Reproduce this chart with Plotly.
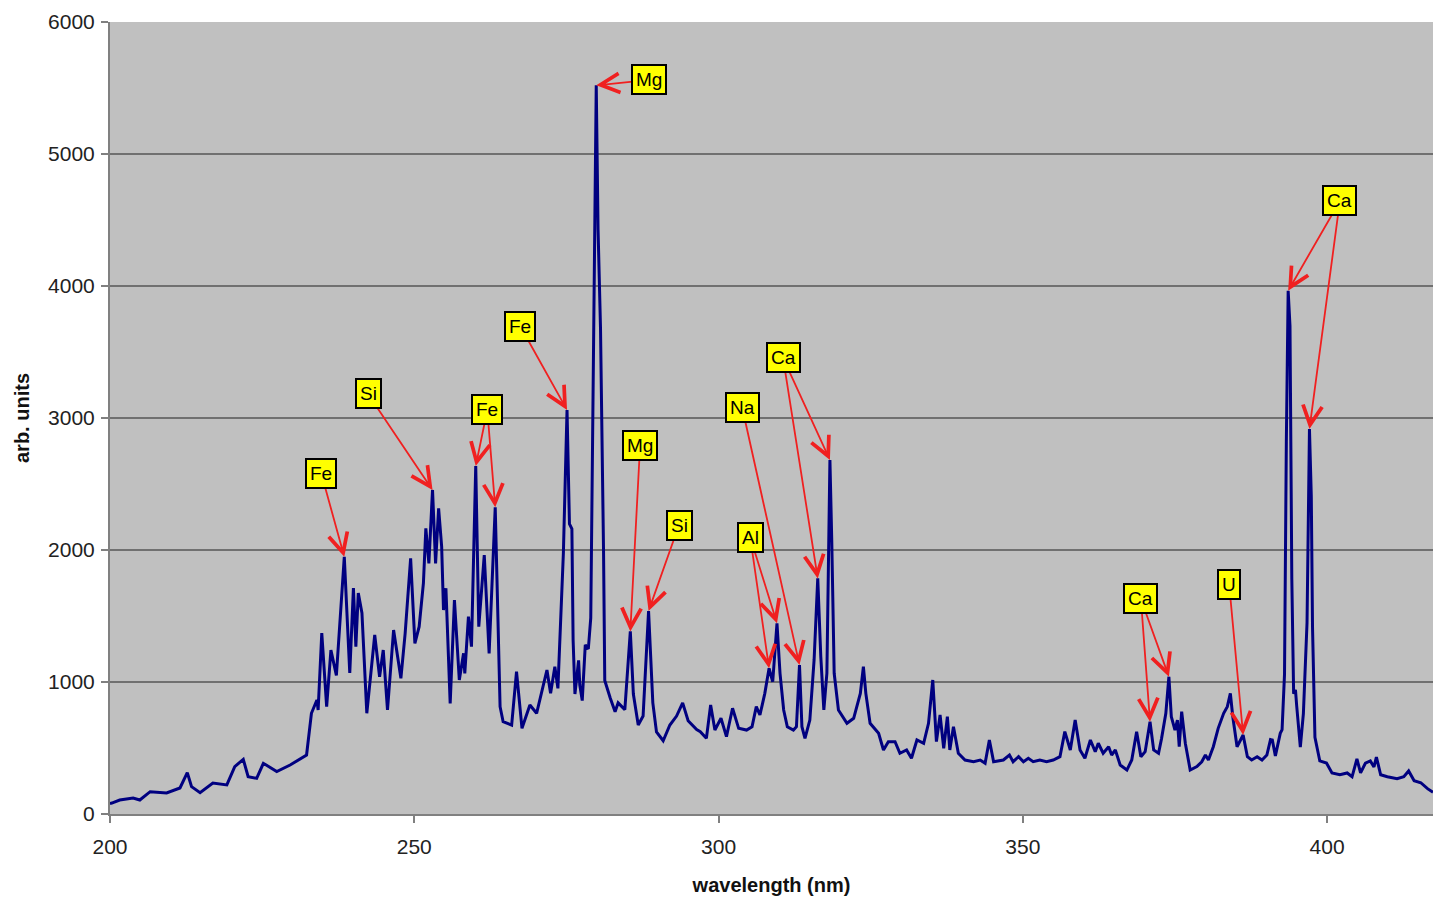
import plotly.graph_objects as go

# Emission spectrum: wavelength (nm) and intensity (arb. units)
wavelength = [
    200.0, 200.3, 201.6, 203.8, 204.9, 206.6, 209.3, 211.5, 212.7, 213.4,
    214.8, 216.9, 219.2, 220.5, 221.9, 222.7, 224.1, 225.2, 227.4, 229.6,
    232.3, 233.1, 234.0, 234.2, 234.8, 235.6, 236.3, 237.2, 238.5, 239.4,
    240.0, 240.4, 240.8, 241.4, 242.2, 243.5, 244.3, 244.9, 245.6, 246.6,
    247.8, 248.5, 249.4, 250.1, 250.8, 251.5, 251.9, 252.4, 253.0, 253.5,
    254.0, 254.5, 254.8, 255.2, 255.9, 256.6, 257.4, 258.1, 258.3, 258.9,
    259.4, 260.1, 260.6, 261.5, 262.3, 263.3, 264.1, 264.6, 266.0, 266.8,
    267.7, 269.0, 270.1, 271.8, 272.4, 273.1, 273.6, 274.1, 274.5, 275.1,
    275.5, 275.9, 276.1, 276.4, 277.0, 277.2, 277.6, 278.1, 278.6, 279.0,
    279.4, 279.9, 280.2, 280.6, 281.1, 281.3, 282.2, 283.0, 283.5, 284.6,
    285.5, 286.0, 286.8, 287.6, 288.5, 289.2, 289.8, 290.9, 292.0, 293.1,
    294.1, 295.0, 296.4, 297.0, 298.0, 298.7, 299.4, 300.4, 301.3, 302.3,
    303.3, 304.6, 305.5, 306.2, 306.8, 307.6, 308.3, 308.9, 309.6, 310.1,
    310.7, 311.3, 312.3, 312.8, 313.3, 313.7, 314.2, 315.0, 315.7, 316.3,
    316.8, 317.3, 317.8, 318.3, 318.6, 319.0, 319.7, 321.1, 322.2, 323.3,
    323.8, 324.2, 324.9, 326.3, 327.1, 327.9, 329.0, 329.8, 330.9, 331.7,
    332.6, 333.7, 334.5, 335.2, 335.8, 336.4, 337.0, 337.6, 338.0, 338.6,
    339.4, 340.5, 341.9, 343.0, 343.8, 344.5, 345.2, 346.8, 347.8, 348.4,
    349.3, 350.1, 350.9, 351.7, 352.8, 353.9, 355.0, 356.1, 356.9, 357.8,
    358.6, 359.4, 360.2, 361.1, 361.9, 362.4, 363.2, 364.1, 364.6, 365.2,
    366.0, 367.1, 367.9, 368.7, 369.4, 370.1, 370.9, 371.5, 372.3, 372.8,
    373.5, 374.0, 374.4, 375.0, 375.4, 375.7, 376.1, 376.7, 377.5, 378.6,
    379.4, 380.0, 380.5, 381.3, 382.1, 383.0, 383.6, 384.1, 384.5, 385.2,
    386.2, 386.9, 387.6, 388.5, 389.3, 390.1, 390.7, 391.0, 391.5, 392.3,
    392.6, 393.0, 393.3, 393.6, 393.9, 394.2, 394.5, 394.8, 395.0, 395.6,
    396.1, 396.7, 397.1, 397.4, 397.6, 398.0, 398.8, 399.9, 400.8, 402.1,
    403.3, 404.1, 404.9, 405.5, 406.3, 407.1, 407.7, 408.1, 408.8, 409.9,
    411.5, 412.6, 413.4, 414.3, 415.4, 416.5, 417.4,
]
intensity = [
    80, 83, 106, 121, 106, 169, 159, 197, 313, 207,
    162, 235, 220, 359, 414, 283, 270, 384, 321, 371,
    447, 763, 864, 788, 1371, 813, 1242, 1050, 1949, 1068,
    1712, 1268, 1674, 1523, 763, 1356, 1040, 1242, 788, 1394,
    1028, 1369, 1937, 1293, 1419, 1748, 2164, 1899, 2455, 1899,
    2316, 2025, 1545, 1710, 838, 1621, 1015, 1217, 1066, 1495,
    1268, 2636, 1419, 1962, 1217, 2323, 813, 699, 674, 1078,
    649, 826, 763, 1091, 914, 1116, 952, 1570, 1975, 3061,
    2197, 2160, 1318, 909, 1164, 977, 859, 1282, 1250, 1485,
    3345, 5520, 4427, 3683, 1992, 1011, 879, 774, 842, 791,
    1383, 909, 674, 742, 1538, 842, 622, 555, 674, 742,
    842, 707, 639, 624, 573, 826, 636, 725, 586, 801,
    649, 636, 661, 813, 750, 914, 1104, 1002, 1445, 1066,
    788, 661, 636, 661, 1129, 661, 573, 712, 1167, 1785,
    1192, 788, 1066, 2682, 2076, 1066, 788, 687, 725, 914,
    1116, 914, 687, 611, 485, 548, 548, 460, 485, 422,
    561, 536, 687, 1015, 548, 750, 498, 737, 485, 661,
    460, 409, 396, 409, 384, 561, 396, 409, 447, 396,
    434, 396, 422, 396, 409, 396, 409, 434, 624, 485,
    712, 485, 422, 561, 472, 536, 460, 510, 447, 485,
    371, 333, 409, 624, 434, 472, 699, 485, 460, 573,
    763, 1040, 737, 636, 712, 510, 775, 536, 333, 359,
    396, 447, 409, 510, 649, 763, 813, 914, 737, 510,
    598, 434, 409, 434, 409, 447, 564, 561, 440, 611,
    639, 1058, 2820, 3964, 3697, 1779, 911, 940, 820, 506,
    761, 1449, 2917, 2407, 1419, 581, 402, 386, 311, 297,
    311, 282, 417, 311, 386, 402, 356, 432, 297, 282,
    267, 282, 326, 252, 237, 192, 165,
]

# Element labels: text, label centre (nm, intensity), peaks it points to (nm)
label_text = ["Fe", "Si", "Fe", "Fe", "Mg", "Mg", "Si", "Al", "Na", "Ca", "Ca", "U", "Ca"]
label_nm = [234.7, 242.4, 262.0, 267.4, 288.6, 287.1, 293.5, 305.2, 303.9, 310.6, 369.4, 383.9, 402.1]
label_val = [2583, 3182, 3061, 3697, 5561, 2788, 2189, 2098, 3076, 3455, 1629, 1742, 4644]
label_peaks = [
    [238.5], [253.0], [260.1, 263.3], [275.1], [279.9], [285.5], [288.5],
    [308.3, 309.6], [313.3], [318.3, 316.3], [370.9, 374.0], [386.2], [393.6, 397.1],
]


def peak_at(nm):
    """Return the spectrum sample closest to the given wavelength."""
    i = min(range(len(wavelength)), key=lambda k: abs(wavelength[k] - nm))
    return wavelength[i], intensity[i]


FONT = "Arial, Liberation Sans, sans-serif"

fig = go.Figure()
fig.add_trace(go.Scatter(
    x=wavelength, y=intensity, mode="lines",
    line=dict(color="#000080", width=3),
    showlegend=False, hoverinfo="skip",
))

annotations = []
# arrows first, so the label boxes sit on top of their tails
for txt, lx, ly, peaks in zip(label_text, label_nm, label_val, label_peaks):
    for p in peaks:
        px, py = peak_at(p)
        annotations.append(dict(
            x=px, y=py, xref="x", yref="y",
            ax=lx, ay=ly, axref="x", ayref="y",
            text=" ", font=dict(size=2),
            showarrow=True, arrowhead=5, arrowsize=2.1, arrowwidth=1.8,
            arrowcolor="#f02020", standoff=0,
        ))
for txt, lx, ly in zip(label_text, label_nm, label_val):
    annotations.append(dict(
        x=lx, y=ly, xref="x", yref="y", text=txt, showarrow=False,
        font=dict(family=FONT, size=19, color="#000000"),
        bgcolor="#ffff00", bordercolor="#000000", borderwidth=2, borderpad=3,
    ))

fig.update_layout(
    width=1433, height=898,
    margin=dict(l=110, r=0, t=22, b=84),
    paper_bgcolor="#ffffff", plot_bgcolor="#c0c0c0",
    font=dict(family=FONT, color="#222222"),
    annotations=annotations,
    xaxis=dict(
        range=[200, 417.4], tickvals=[200, 250, 300, 350, 400],
        ticks="outside", ticklen=7, tickwidth=1.5, tickcolor="#808080",
        showline=True, linecolor="#808080", linewidth=2,
        showgrid=False, zeroline=False,
        tickfont=dict(family=FONT, size=21, color="#222222"),
        ticklabelstandoff=6,
        title=dict(text="<b>wavelength (nm)</b>", standoff=21,
                   font=dict(family=FONT, size=20, color="#111111")),
    ),
    yaxis=dict(
        range=[0, 6000], dtick=1000,
        ticks="outside", ticklen=7, tickwidth=1.5, tickcolor="#808080",
        showline=True, linecolor="#808080", linewidth=2,
        showgrid=True, gridcolor="#707070", gridwidth=1.5, zeroline=False,
        tickfont=dict(family=FONT, size=21, color="#222222"),
        ticklabelstandoff=2,
        title=dict(text="<b>arb. units</b>", standoff=13,
                   font=dict(family=FONT, size=20, color="#111111")),
    ),
)

fig.write_html("out.html")
